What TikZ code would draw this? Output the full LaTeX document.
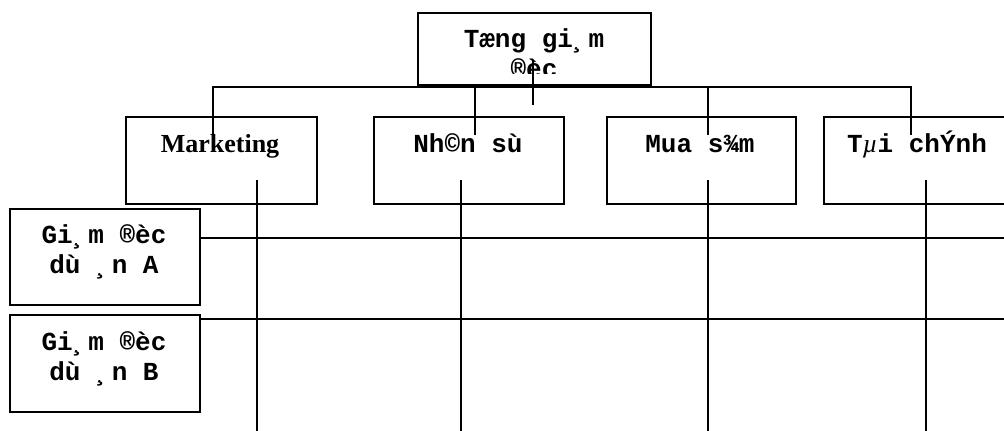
\documentclass[tikz,border=0pt]{standalone}
\usepackage{fontspec}
\setmainfont{Liberation Serif}
\newfontfamily\courfont{Liberation Mono}
\begin{document}
\begin{tikzpicture}[x=1pt,y=-1pt,
  box/.style={draw, line width=1.8pt, inner sep=0pt, anchor=north west},
  conn/.style={line width=1.3pt},
  mono/.style={font=\courfont\bfseries\fontsize{26}{30}\selectfont, align=center, inner sep=0pt, anchor=base},
  serif/.style={font=\bfseries\fontsize{26}{30}\selectfont, inner sep=0pt, anchor=base}]
\useasboundingbox (0,0) rectangle (1004,431);
\clip (0,0) rectangle (1004,431);
\fill[white] (0,0) rectangle (1004,431);
% boxes
\node[box, minimum width=233pt, minimum height=72pt] (top) at (417,12) {};
\node[box, minimum width=191pt, minimum height=87pt] (mk) at (125,116) {};
\node[box, minimum width=190pt, minimum height=87pt] (ns) at (373,116) {};
\node[box, minimum width=189pt, minimum height=87pt] (ms) at (606,116) {};
\node[box, minimum width=190pt, minimum height=87pt] (tc) at (823,116) {};
\node[box, minimum width=190pt, minimum height=96pt] (ga) at (9,208) {};
\node[box, minimum width=190pt, minimum height=97pt] (gb) at (9,314) {};
% texts
\begin{scope}
\clip (417,12) rectangle (650,73);
\node[mono] (toptxt) at (534,77) {Tæng gi¸m\\®èc};
\end{scope}
\node[serif] (mktxt) at (220,152) {Marketing};
\node[mono] (nstxt) at (468,152) {Nh©n sù};
\node[mono] (mstxt) at (700,152) {Mua s¾m};
\node[mono] (tctxt) at (917,152) {T{\rmfamily\itshape\mdseries µ}i chÝnh};
\node[mono] (gatxt) at (104,273) {Gi¸m ®èc\\dù ¸n A};
\node[mono] (gbtxt) at (104,380) {Gi¸m ®èc\\dù ¸n B};
% connector coordinates
\coordinate (d1) at (213,135);
\coordinate (d2) at (475,135);
\coordinate (d3) at (708,135);
\coordinate (d4) at (911,135);
\coordinate (bus) at (0,87);
\coordinate (cA) at (533,60);
\coordinate (cB) at (533,105);
\coordinate (v1) at (257,180);
\coordinate (v2) at (461,180);
\coordinate (v3) at (708,180);
\coordinate (v4) at (926,180);
\coordinate (bot) at (0,431);
\coordinate (ha) at (1004,238);
\coordinate (hb) at (1004,319);
% connectors
\draw[conn] (d1) -- (d1 |- bus) -| (d4);
\draw[conn] (d2) -- (d2 |- bus);
\draw[conn] (d3) -- (d3 |- bus);
\draw[conn] (cA) -- (cB);
\draw[conn] (v1) -- (v1 |- bot);
\draw[conn] (v2) -- (v2 |- bot);
\draw[conn] (v3) -- (v3 |- bot);
\draw[conn] (v4) -- (v4 |- bot);
\draw[conn] (ga.east |- ha) -- (ha);
\draw[conn] (gb.east |- hb) -- (hb);
\end{tikzpicture}
\end{document}
